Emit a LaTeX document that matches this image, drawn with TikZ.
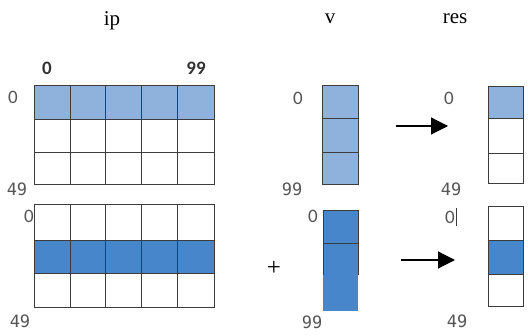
\documentclass[tikz,border=0pt]{standalone}
\usepackage{fontspec}
\setmainfont{Liberation Serif}
\newfontfamily\numf{Carlito}
\newfontfamily\monof{DejaVu Sans Mono}
\usetikzlibrary{arrows.meta}
\definecolor{lblue}{RGB}{142,178,220}
\definecolor{dblue}{RGB}{72,134,204}
\definecolor{gridc}{RGB}{60,60,60}
\definecolor{labc}{RGB}{85,85,85}
\tikzset{
  cell/.style={draw=gridc, line width=1pt},
  title/.style={font=\fontsize{21}{21}\selectfont, inner sep=0pt},
  idx/.style={font=\numf\fontsize{19}{19}\selectfont, text=labc, inner sep=0pt},
  idxb/.style={font=\numf\bfseries\fontsize{19}{19}\selectfont, text=black!80, inner sep=0pt},
  idxm/.style={font=\monof\fontsize{17}{17}\selectfont, text=labc, inner sep=0pt},
  arr/.style={line width=1.2pt, -{Triangle[length=17pt,width=17pt]}},
}
\begin{document}
\begin{tikzpicture}[x=1pt,y=-1pt]
\useasboundingbox (0,0) rectangle (528,336);
% titles
\node[title] (tip) at (112,21) {ip};
\node[title] (tv) at (330,19) {v};
\node[title] (tres) at (455,19) {res};
% ---- top ip grid
\fill[lblue] (34,86) rectangle (214,120);
\foreach \xa/\xb in {34/70,70/105,105/141,141/177,177/214}{
  \foreach \ya/\yb in {86/120,120/153,153/185}{
    \draw[cell] (\xa,\ya) rectangle (\xb,\yb);
  }
}
\node[idxb] (c0) at (47,68) {0};
\node[idxb] (c99) at (196,68) {99};
\node[idx] (r0a) at (13,97) {0};
\node[idxm] (r49a) at (17,189) {49};
% ---- top v
\fill[lblue] (322,86) rectangle (358,185);
\foreach \ya/\yb in {86/119,119/153,153/185}{
  \draw[cell] (322,\ya) rectangle (358,\yb);
}
\node[idx] (v0a) at (298,98) {0};
\node[idxm] (v99a) at (292,189) {99};
% arrow top
\coordinate (a1s) at (396,126);
\coordinate (a1e) at (448,126);
\draw[arr] (a1s) -- (a1e);
% ---- top res
\fill[lblue] (488,87) rectangle (523,119);
\foreach \ya/\yb in {87/119,119/154,154/184}{
  \draw[cell] (488,\ya) rectangle (523,\yb);
}
\node[idx] (s0a) at (449,98) {0};
\node[idxm] (s49a) at (451,189) {49};
% ---- bottom ip grid
\fill[dblue] (34,241) rectangle (214,274);
\foreach \xa/\xb in {34/70,70/105,105/141,141/177,177/214}{
  \foreach \ya/\yb in {205/241,241/274,274/308}{
    \draw[cell] (\xa,\ya) rectangle (\xb,\yb);
  }
}
\node[idx] (r0b) at (29,216) {0};
\node[idxm] (r49b) at (20,321) {49};
% ---- bottom v
\fill[dblue] (323,211) rectangle (358,311);
\draw[cell] (323,275) -- (323,211) -- (358,211) -- (358,275);
\draw[cell] (323,244) -- (358,244);
\node[idx] (v0b) at (313,216) {0};
\node[idxm] (v99b) at (312,322) {99};
\node[font=\fontsize{25}{25}\selectfont, inner sep=0pt] (plus) at (274,268) {+};
% arrow bottom
\coordinate (a2s) at (401,260);
\coordinate (a2e) at (455,260);
\draw[arr] (a2s) -- (a2e);
% ---- bottom res
\fill[dblue] (488,241) rectangle (523,275);
\foreach \ya/\yb in {207/241,241/275,275/307}{
  \draw[cell] (488,\ya) rectangle (523,\yb);
}
\node[idx] (s0b) at (450,217) {0};
\draw[gridc, line width=0.8pt] (456,208) -- (456,226);
\node[idxm] (s49b) at (457,321) {49};
\end{tikzpicture}
\end{document}
